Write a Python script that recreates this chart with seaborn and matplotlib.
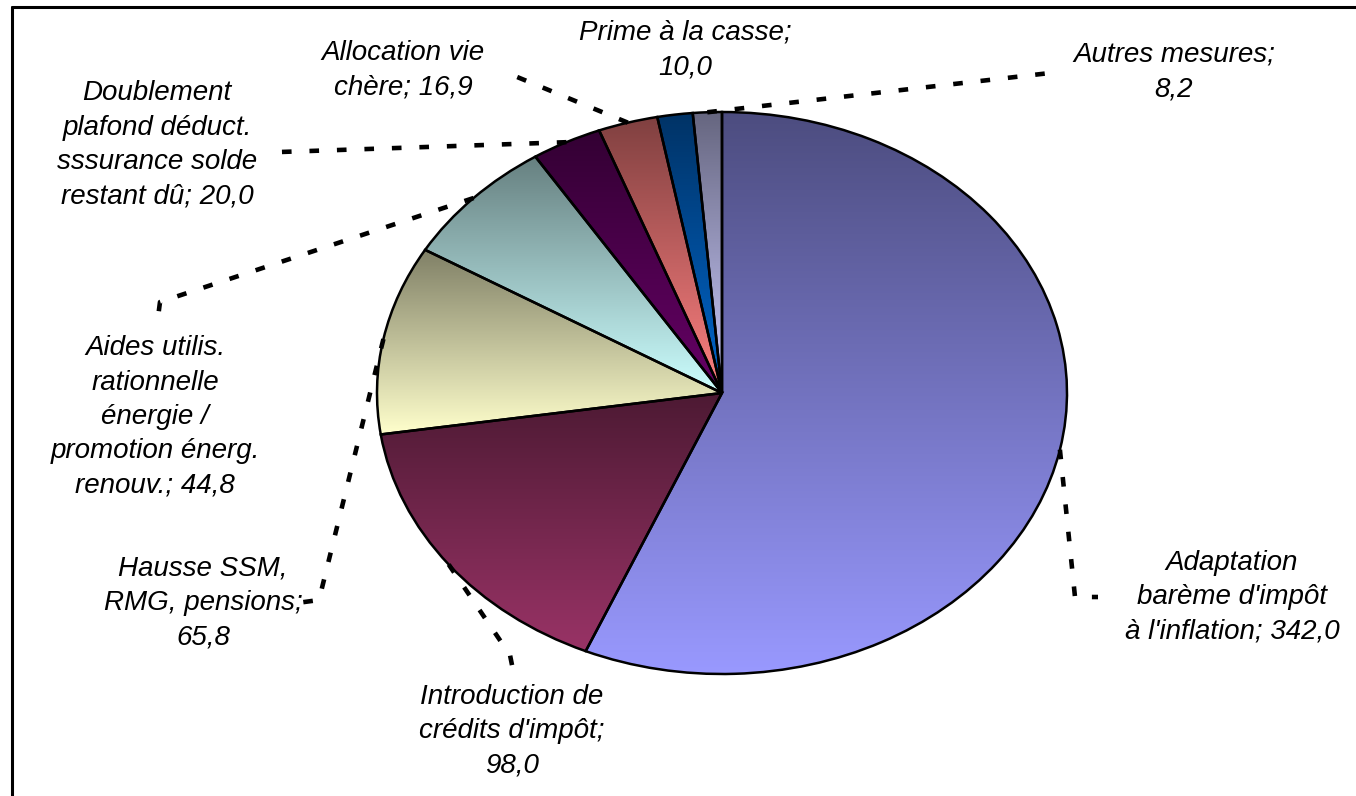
import numpy as np
import matplotlib
matplotlib.use("Agg")
import matplotlib.pyplot as plt
import matplotlib.colors as mcolors
from matplotlib.lines import Line2D
import seaborn as sns

# Data (clockwise from 12 o'clock)
labels = [
    "Adaptation\nbarème d'impôt\nà l'inflation; 342,0",
    "Introduction de\ncrédits d'impôt;\n98,0",
    "Hausse SSM,\nRMG, pensions;\n65,8",
    "Aides utilis.\nrationnelle\nénergie /\npromotion énerg.\nrenouv.; 44,8",
    "Doublement\nplafond déduct.\nsssurance solde\nrestant dû; 20,0",
    "Allocation vie\nchère; 16,9",
    "Prime à la casse;\n10,0",
    "Autres mesures;\n8,2",
]
values = [342.0, 98.0, 65.8, 44.8, 20.0, 16.9, 10.0, 8.2]
colors = ["#9999FF", "#993366", "#FFFFCC", "#CCFFFF",
          "#660066", "#FF8080", "#0066CC", "#CCCCFF"]

# label placement (pixel coords, origin top-left)
label_pos = [(1232, 597), (512, 731), (203, 603), (155, 417),
             (157, 145), (403, 70), (685, 50), (1174, 72)]
# leader elbows / end points (None = no leader)
leader_pts = [
    [(1075, 597), (1098, 597)],
    [(510, 655), (514, 675)],
    [(319, 600), (297, 603)],
    [(160, 302), (157, 325)],
    [(280, 152)],
    [(505, 72)],
    None,
    [(1050, 73)],
]

sns.set_theme(style="white")
plt.rcParams["font.family"] = ["Liberation Sans", "DejaVu Sans"]

W, H = 1356, 796
fig = plt.figure(figsize=(W / 100, H / 100), dpi=100)
fig.patch.set_facecolor("white")

# pie axes covers the ellipse bounding box -> elliptical pie
ax = fig.add_axes([377 / W, 1 - 674 / H, 690 / W, 562 / H])
wedges, _ = ax.pie(values, colors=colors, startangle=90, counterclock=False,
                   wedgeprops=dict(edgecolor="black", linewidth=1.8))

# vertical gradient per slice: dark at top, full colour at bottom
for w, c in zip(wedges, colors):
    v = w.get_path().vertices
    x0, x1 = v[:, 0].min(), v[:, 0].max()
    y0, y1 = v[:, 1].min(), v[:, 1].max()
    t = np.linspace(0, 1, 256)[:, None]
    grad = (np.array(mcolors.to_rgb(c))[None, :] * (1 - 0.5 * t)).reshape(256, 1, 3)
    im = ax.imshow(grad, extent=[x0, x1, y0, y1], origin="lower",
                   aspect="auto", interpolation="bilinear", zorder=0.5)
    im.set_clip_path(w)
    w.set_facecolor("none")
    w.set_zorder(1)

ax.set_aspect("auto")
ax.set_xlim(-1, 1)
ax.set_ylim(-1, 1)
ax.axis("off")

# overlay axes in pixel coordinates for labels and leader lines
ov = fig.add_axes([0, 0, 1, 1])
ov.set_xlim(0, W)
ov.set_ylim(H, 0)
ov.axis("off")
ov.patch.set_alpha(0)

to_ov = ov.transData.inverted()
for w, lab, pos, pts in zip(wedges, labels, label_pos, leader_pts):
    if pts is not None:
        a = np.deg2rad((w.theta1 + w.theta2) / 2)
        start = to_ov.transform(ax.transData.transform((np.cos(a), np.sin(a))))
        xs = [start[0]] + [p[0] for p in pts]
        ys = [start[1]] + [p[1] for p in pts]
        ov.plot(xs, ys, color="black", lw=3.3, linestyle=(0, (2.1, 3.9)),
                dash_capstyle="butt", solid_capstyle="butt", zorder=3)
    ov.text(pos[0], pos[1], lab, ha="center", va="center", ma="center",
            fontsize=20, style="italic", color="black", linespacing=1.42,
            zorder=4)

# chart border (left and top edges visible)
fig.add_artist(Line2D([12 / W, 12 / W], [0, 1 - 7 / H], transform=fig.transFigure,
                      color="black", lw=2.2))
fig.add_artist(Line2D([12 / W, 1], [1 - 7 / H, 1 - 7 / H], transform=fig.transFigure,
                      color="black", lw=2.2))

fig.savefig("out.png", dpi=100)
